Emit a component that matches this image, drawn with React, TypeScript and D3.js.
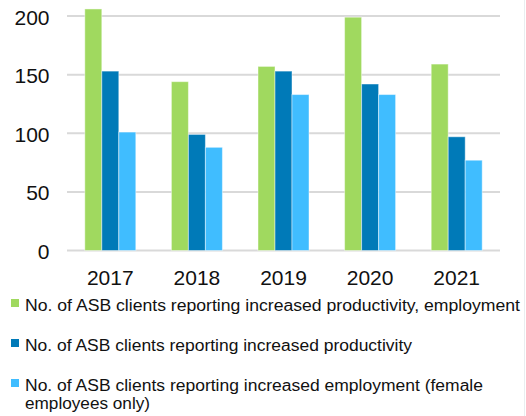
import React from "react";
import * as d3 from "d3";

const years = ["2017", "2018", "2019", "2020", "2021"];
const seriesNames = [
  "No. of ASB clients reporting increased productivity, employment",
  "No. of ASB clients reporting increased productivity",
  "No. of ASB clients reporting increased employment (female employees only)",
];
const prodEmp = [206, 144, 157, 199, 159];
const prod = [153, 99, 153, 142, 97];
const empFemale = [101, 88, 133, 133, 77];
const yTicks = [0, 50, 100, 150, 200];
const colors = ["#a0d95f", "#007ab8", "#40bdff"];

const W = 526;
const H = 416;
const plot = { left: 67, right: 500, top: 16, bottom: 250.5 };

export default function App() {
  const seriesValues = [prodEmp, prod, empFemale];
  const x = d3.scaleBand<string>().domain(years).range([plot.left, plot.right]);
  const y = d3.scaleLinear().domain([0, 200]).range([plot.bottom, plot.top]);
  const barW = 17;
  const groupW = barW * 3;

  const legendRows = [
    { lines: [seriesNames[0]], widths: [495], y: 299 },
    { lines: [seriesNames[1]], widths: [387], y: 339 },
    {
      lines: ["No. of ASB clients reporting increased employment (female", "employees only)"],
      widths: [458, 125],
      y: 379,
    },
  ];

  return (
    <div style={{ position: "absolute", left: 0, top: 0 }}>
      <svg width={W} height={H} style={{ display: "block", background: "#fff" }}>
        <rect x={0} y={0} width={W} height={H} fill="#ffffff" />
        <line x1={524.5} x2={524.5} y1={0} y2={H} stroke="#e9eef0" strokeWidth={1} />
        {yTicks.map((t) => (
          <g key={t}>
            <line
              x1={plot.left}
              x2={plot.right}
              y1={y(t)}
              y2={y(t)}
              stroke="#d9d9d9"
              strokeWidth={2}
            />
            <text
              x={49.5}
              y={y(t) + 8.5}
              textAnchor="end"
              fontFamily="'Liberation Sans', Arial, sans-serif"
              fontSize={21}
              fill="#111"
            >
              {t}
            </text>
          </g>
        ))}
        {years.map((yr, i) => {
          const cx = (x(yr) as number) + x.bandwidth() / 2;
          return (
            <g key={yr}>
              {seriesValues.map((vals, s) => (
                <rect
                  key={s}
                  x={cx - groupW / 2 + s * barW}
                  y={y(vals[i])}
                  width={barW}
                  height={y(0) - y(vals[i])}
                  fill={colors[s]}
                  stroke="#ffffff"
                  strokeOpacity={0.45}
                  strokeWidth={1}
                />
              ))}
              <text
                x={cx}
                y={284.5}
                textAnchor="middle"
                fontFamily="'Liberation Sans', Arial, sans-serif"
                fontSize={21}
                fill="#111"
              >
                {yr}
              </text>
            </g>
          );
        })}
        {legendRows.map((row, r) => (
          <g key={r}>
            <rect x={11} y={row.y} width={8} height={8} fill={colors[r]} />
            {row.lines.map((ln, k) => (
              <text
                key={k}
                x={25}
                y={row.y + 12 + k * 18}
                fontFamily="'Liberation Sans Narrow', 'Liberation Sans', Arial, sans-serif"
                fontSize={15.8}
                fill="#111"
                textLength={row.widths[k]}
                lengthAdjust="spacingAndGlyphs"
              >
                {ln}
              </text>
            ))}
          </g>
        ))}
      </svg>
    </div>
  );
}
